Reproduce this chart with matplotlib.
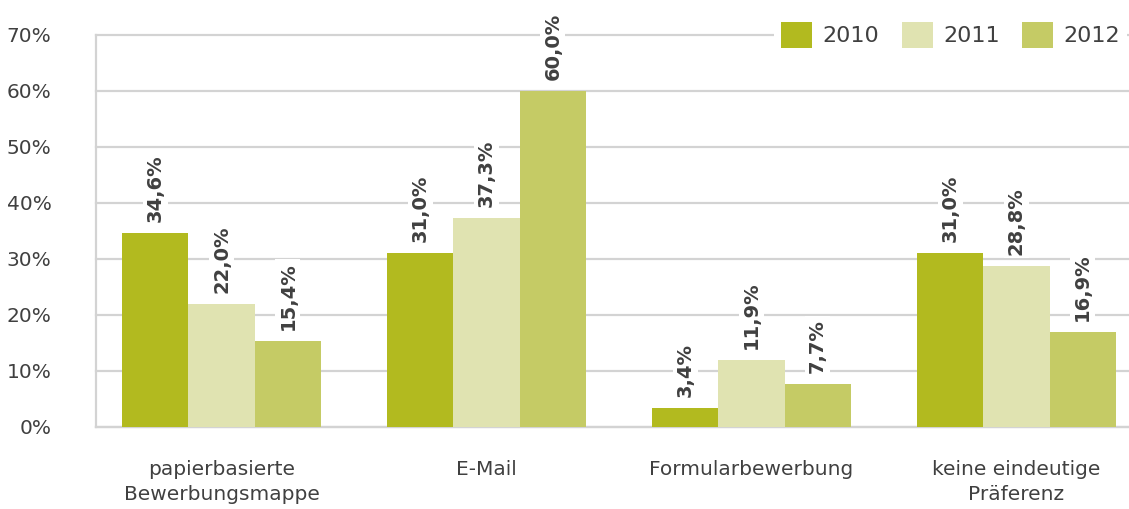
import numpy as np
from matplotlib import pyplot as plt

categories = ['papierbasierte\nBewerbungsmappe', 'E-Mail', 'Formularbewerbung',
              'keine eindeutige\nPräferenz']
years = ['2010', '2011', '2012']
v2010 = [34.6, 31.0, 3.4, 31.0]
v2011 = [22.0, 37.3, 11.9, 28.8]
v2012 = [15.4, 60.0, 7.7, 16.9]
colors = ['#b2ba1f', '#e0e3b1', '#c5cb65']

text_col = '#404040'
grid_col = '#d3d3d3'

fig = plt.figure(figsize=(11.29, 5.09), dpi=100)
ax = fig.add_axes([96 / 1129, (509 - 427) / 509, 1 - 96 / 1129, (427 - 35) / 509])

x = np.arange(len(categories))
w = 0.25
for i, vals in enumerate([v2010, v2011, v2012]):
    bars = ax.bar(x + (i - 1) * w, vals, w, color=colors[i], label=years[i], zorder=3)
    for b, v in zip(bars, vals):
        ax.annotate(('%.1f%%' % v).replace('.', ','),
                    (b.get_x() + b.get_width() / 2, v),
                    xytext=(0, 8), textcoords='offset points',
                    rotation=90, ha='center', va='bottom',
                    fontsize=14, fontweight='bold', color=text_col, zorder=4,
                    bbox=dict(boxstyle='square,pad=0.15', fc='white', ec='none'))

ax.set_ylim(0, 70)
ax.set_xlim(-0.474, 3.425)
ax.set_yticks(range(0, 71, 10))
ax.set_yticklabels(['%d%%' % t for t in range(0, 71, 10)])
ax.yaxis.grid(True, color=grid_col, linewidth=1.6, zorder=0)
ax.set_axisbelow(True)
for gl in ax.get_ygridlines():
    gl.set_clip_on(False)
ax.tick_params(axis='y', length=0, pad=32, labelsize=14.5, labelcolor=text_col)
ax.set_xticks(x)
ax.set_xticklabels(categories, linespacing=1.35)
ax.tick_params(axis='x', length=0, pad=24, labelsize=14.5, labelcolor=text_col)

for s in ['top', 'right']:
    ax.spines[s].set_visible(False)
for s in ['left', 'bottom']:
    ax.spines[s].set_color(grid_col)
    ax.spines[s].set_linewidth(1.6)

leg = ax.legend(ncol=3, loc='center right', bbox_to_anchor=(0.998, 1.0),
                frameon=True, fontsize=16, handlelength=1.4, handleheight=1.4,
                columnspacing=1.0, handletextpad=0.47, borderpad=0.3,
                borderaxespad=0, fancybox=False)
leg.get_frame().set_facecolor('white')
leg.get_frame().set_edgecolor('none')
leg.get_frame().set_alpha(1)
leg.set_zorder(5)
for t in leg.get_texts():
    t.set_color(text_col)

plt.savefig('out.png', dpi=100)
